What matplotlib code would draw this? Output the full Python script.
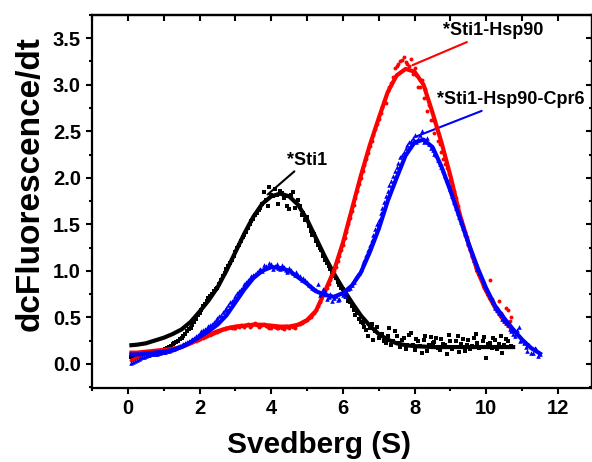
import numpy as np
import matplotlib.pyplot as plt
from matplotlib.ticker import MultipleLocator, NullFormatter

plt.rcParams['font.family'] = ['Liberation Sans', 'DejaVu Sans']
plt.rcParams['font.weight'] = 'bold'

# ---- fitted curves ----
fit_x_black = [0.1, 0.25, 0.5, 0.75, 1.0, 1.25, 1.5, 1.75, 2.0, 2.25, 2.5, 2.75, 3.0, 3.25,
               3.5, 3.75, 4.0, 4.25, 4.5, 4.75, 5.0, 5.25, 5.5, 5.75, 6.0, 6.25, 6.5, 6.75,
               7.0, 7.25, 7.5, 7.75, 8.0, 8.5, 9.0, 9.5, 10.0, 10.5, 10.75]
fit_y_black = [0.20, 0.205, 0.22, 0.25, 0.28, 0.32, 0.37, 0.45, 0.56, 0.68, 0.82, 1.00, 1.20, 1.40,
               1.58, 1.72, 1.80, 1.83, 1.80, 1.71, 1.55, 1.35, 1.15, 0.97, 0.81, 0.66, 0.52, 0.41,
               0.32, 0.26, 0.22, 0.20, 0.19, 0.18, 0.18, 0.18, 0.18, 0.18, 0.18]

fit_x_red = [0.1, 0.25, 0.5, 0.75, 1.0, 1.25, 1.5, 1.75, 2.0, 2.25, 2.5, 2.75, 3.0, 3.25,
             3.5, 3.75, 4.0, 4.25, 4.5, 4.75, 5.0, 5.25, 5.5, 5.75, 6.0, 6.25, 6.5, 6.75,
             7.0, 7.25, 7.5, 7.75, 8.0, 8.25, 8.5, 8.75, 9.0, 9.25, 9.5, 9.75, 10.0, 10.25,
             10.5, 10.75]
fit_y_red = [0.12, 0.12, 0.13, 0.14, 0.15, 0.16, 0.18, 0.22, 0.27, 0.31, 0.35, 0.38, 0.40, 0.41,
             0.42, 0.42, 0.41, 0.40, 0.40, 0.42, 0.47, 0.57, 0.78, 1.00, 1.30, 1.66, 2.02, 2.35,
             2.64, 2.92, 3.10, 3.17, 3.14, 3.00, 2.70, 2.38, 2.02, 1.62, 1.30, 1.00, 0.78, 0.60,
             0.46, 0.36]

fit_x_blue = [0.1, 0.25, 0.5, 0.75, 1.0, 1.25, 1.5, 1.75, 2.0, 2.25, 2.5, 2.75, 3.0, 3.25,
              3.5, 3.75, 4.0, 4.25, 4.5, 4.75, 5.0, 5.25, 5.5, 5.75, 6.0, 6.25, 6.5, 6.75,
              7.0, 7.25, 7.5, 7.75, 8.0, 8.25, 8.5, 8.75, 9.0, 9.25, 9.5, 9.75, 10.0, 10.25,
              10.5, 10.75, 11.0, 11.25, 11.5]
fit_y_blue = [0.10, 0.10, 0.11, 0.12, 0.13, 0.15, 0.18, 0.23, 0.29, 0.35, 0.42, 0.52, 0.66, 0.80,
              0.92, 1.00, 1.04, 1.03, 1.00, 0.93, 0.86, 0.78, 0.74, 0.72, 0.76, 0.84, 0.98, 1.20,
              1.45, 1.75, 2.00, 2.24, 2.38, 2.41, 2.33, 2.12, 1.86, 1.58, 1.30, 1.04, 0.81, 0.62,
              0.49, 0.37, 0.26, 0.17, 0.11]

# ---- raw points, first pass (x = 0.1, 0.2, ...) ----
pts_x_black = [round(0.1 * i, 2) for i in range(1, 108)]
pts_y_black = [0.07, 0.08, 0.08, 0.09, 0.10, 0.10, 0.11, 0.12, 0.14, 0.15,
               0.17, 0.19, 0.22, 0.25, 0.28, 0.32, 0.37, 0.42, 0.48, 0.55,
               0.62, 0.68, 0.73, 0.78, 0.82, 0.90, 0.98, 1.05, 1.12, 1.20,
               1.28, 1.36, 1.42, 1.50, 1.56, 1.62, 1.68, 1.85, 1.70, 1.82,
               1.88, 1.72, 1.84, 1.80, 1.66, 1.85, 1.74, 1.70, 1.62, 1.58,
               1.43, 1.40, 1.28, 1.22, 1.12, 1.05, 0.98, 0.92, 0.85, 0.80,
               0.72, 0.66, 0.58, 0.55, 0.45, 0.40, 0.30, 0.43, 0.35, 0.28,
               0.32, 0.22, 0.38, 0.25, 0.30, 0.18, 0.28, 0.20, 0.33, 0.15,
               0.24, 0.12, 0.30, 0.20, 0.22, 0.28, 0.15, 0.21, 0.10, 0.25,
               0.18, 0.30, 0.21, 0.14, 0.26, 0.19, 0.32, 0.17, 0.24, 0.06,
               0.22, 0.28, 0.16, 0.30, 0.20, 0.25, 0.19]

pts_x_red = [round(0.1 * i, 2) for i in range(1, 108)]
pts_y_red = [0.04, 0.06, 0.08, 0.09, 0.10, 0.11, 0.12, 0.13, 0.14, 0.15,
             0.15, 0.16, 0.17, 0.18, 0.19, 0.20, 0.22, 0.23, 0.25, 0.27,
             0.28, 0.30, 0.31, 0.33, 0.34, 0.36, 0.37, 0.38, 0.39, 0.39,
             0.40, 0.41, 0.42, 0.40, 0.43, 0.42, 0.41, 0.43, 0.40, 0.39,
             0.40, 0.38, 0.39, 0.41, 0.38, 0.40, 0.42, 0.43, 0.45, 0.47,
             0.50, 0.55, 0.62, 0.70, 0.78, 0.86, 0.95, 1.04, 1.16, 1.28,
             1.42, 1.57, 1.71, 1.86, 2.00, 2.14, 2.27, 2.40, 2.52, 2.63,
             2.76, 2.80, 2.98, 3.08, 3.20, 3.25, 3.30, 3.22, 3.28, 3.18,
             2.98, 3.05, 2.95, 2.78, 2.62, 2.53, 2.36, 2.20, 2.10, 1.98,
             1.86, 1.70, 1.55, 1.42, 1.28, 1.15, 1.03, 0.97, 0.85, 0.80,
             0.90, 0.66, 0.60, 0.55, 0.48, 0.58, 0.50]

pts_x_blue = [round(0.1 * i, 2) for i in range(1, 116)]
pts_y_blue = [0.01, 0.03, 0.05, 0.07, 0.08, 0.09, 0.10, 0.11, 0.12, 0.13,
              0.14, 0.15, 0.16, 0.18, 0.20, 0.22, 0.24, 0.27, 0.30, 0.33,
              0.36, 0.39, 0.42, 0.45, 0.49, 0.53, 0.58, 0.63, 0.68, 0.73,
              0.78, 0.83, 0.88, 0.92, 0.96, 0.99, 1.02, 1.06, 1.04, 1.07,
              1.05, 1.03, 1.06, 1.01, 1.03, 0.98, 0.99, 0.94, 0.92, 0.88,
              0.84, 0.80, 0.86, 0.76, 0.78, 0.72, 0.68, 0.73, 0.70, 0.74,
              0.77, 0.82, 0.88, 0.95, 1.02, 1.12, 1.22, 1.33, 1.45, 1.55,
              1.68, 1.80, 1.92, 2.02, 2.12, 2.22, 2.28, 2.35, 2.40, 2.46,
              2.42, 2.50, 2.40, 2.36, 2.30, 2.24, 2.15, 2.08, 1.98, 1.88,
              1.74, 1.62, 1.52, 1.40, 1.30, 1.18, 1.08, 0.98, 0.90, 0.80,
              0.72, 0.66, 0.58, 0.52, 0.46, 0.42, 0.35, 0.30, 0.40, 0.26,
              0.18, 0.20, 0.12, 0.16, 0.10]

# ---- raw points, second pass (x = 0.15, 0.25, ...) ----
pts2_x_black = [round(0.1 * i + 0.05, 2) for i in range(1, 107)]
pts2_y_black = [0.08, 0.07, 0.09, 0.10, 0.09, 0.11, 0.12, 0.13, 0.14, 0.16,
                0.18, 0.21, 0.23, 0.27, 0.30, 0.35, 0.39, 0.45, 0.52, 0.58,
                0.64, 0.71, 0.75, 0.80, 0.86, 0.94, 1.02, 1.08, 1.16, 1.24,
                1.32, 1.38, 1.46, 1.53, 1.60, 1.65, 1.72, 1.76, 1.90, 1.80,
                1.82, 1.86, 1.78, 1.70, 1.82, 1.68, 1.76, 1.60, 1.55, 1.48,
                1.38, 1.32, 1.25, 1.16, 1.08, 1.02, 0.94, 0.88, 0.82, 0.76,
                0.68, 0.62, 0.52, 0.48, 0.44, 0.36, 0.38, 0.26, 0.40, 0.30,
                0.24, 0.30, 0.20, 0.35, 0.22, 0.26, 0.16, 0.31, 0.20, 0.27,
                0.19, 0.26, 0.14, 0.29, 0.23, 0.17, 0.27, 0.20, 0.31, 0.16,
                0.24, 0.13, 0.27, 0.20, 0.16, 0.28, 0.22, 0.18, 0.29, 0.21,
                0.17, 0.26, 0.21, 0.12, 0.27, 0.18]

pts2_x_red = [round(0.1 * i + 0.05, 2) for i in range(1, 107)]
pts2_y_red = [0.05, 0.07, 0.08, 0.10, 0.11, 0.12, 0.12, 0.14, 0.15, 0.15,
              0.16, 0.17, 0.17, 0.19, 0.20, 0.21, 0.23, 0.24, 0.26, 0.28,
              0.29, 0.31, 0.32, 0.34, 0.35, 0.37, 0.38, 0.40, 0.38, 0.41,
              0.42, 0.40, 0.43, 0.41, 0.44, 0.40, 0.42, 0.41, 0.38, 0.41,
              0.39, 0.40, 0.37, 0.40, 0.41, 0.39, 0.43, 0.44, 0.46, 0.49,
              0.53, 0.58, 0.66, 0.74, 0.82, 0.90, 1.00, 1.10, 1.22, 1.35,
              1.50, 1.64, 1.78, 1.93, 2.07, 2.20, 2.34, 2.46, 2.58, 2.70,
              2.82, 2.93, 3.02, 3.18, 3.22, 3.27, 3.24, 3.20, 3.12, 3.10,
              2.98, 2.86, 2.72, 2.62, 2.48, 2.40, 2.28, 2.15, 2.04, 1.92,
              1.78, 1.62, 1.48, 1.36, 1.22, 1.10, 1.00, 0.92, 0.82, 0.74,
              0.70, 0.62, 0.68, 0.52, 0.60, 0.46]

pts2_x_blue = [round(0.1 * i + 0.05, 2) for i in range(1, 115)]
pts2_y_blue = [0.02, 0.04, 0.06, 0.07, 0.09, 0.10, 0.10, 0.12, 0.13, 0.13,
               0.14, 0.16, 0.17, 0.19, 0.21, 0.23, 0.26, 0.28, 0.31, 0.35,
               0.37, 0.41, 0.43, 0.47, 0.51, 0.56, 0.60, 0.66, 0.70, 0.76,
               0.80, 0.86, 0.90, 0.94, 0.97, 1.01, 1.00, 1.05, 1.08, 1.02,
               1.07, 1.02, 1.04, 0.99, 1.01, 0.96, 0.95, 0.90, 0.90, 0.85,
               0.82, 0.79, 0.74, 0.80, 0.70, 0.75, 0.71, 0.69, 0.76, 0.73,
               0.80, 0.85, 0.92, 0.98, 1.08, 1.17, 1.28, 1.38, 1.50, 1.62,
               1.74, 1.86, 1.97, 2.07, 2.16, 2.25, 2.32, 2.38, 2.43, 2.38,
               2.46, 2.38, 2.43, 2.32, 2.26, 2.19, 2.12, 2.02, 1.92, 1.80,
               1.68, 1.58, 1.46, 1.35, 1.24, 1.12, 1.02, 0.94, 0.85, 0.76,
               0.70, 0.60, 0.55, 0.48, 0.44, 0.37, 0.32, 0.36, 0.24, 0.22,
               0.14, 0.12, 0.17, 0.08]

fig = plt.figure(figsize=(5.92, 4.62), dpi=100)
ax = fig.add_axes([0.1554, 0.1602, 0.8446, 0.8074])

# black (*Sti1)
ax.plot(pts_x_black, pts_y_black, 's', color='black', ms=2.5, mew=0, zorder=2)
ax.plot(pts2_x_black, pts2_y_black, 's', color='black', ms=2.5, mew=0, zorder=2)
ax.plot(fit_x_black, fit_y_black, '-', color='black', lw=3, zorder=3)
# red (*Sti1-Hsp90)
ax.plot(pts_x_red, pts_y_red, 'o', color='red', ms=2.8, mew=0, zorder=4)
ax.plot(pts2_x_red, pts2_y_red, 'o', color='red', ms=2.8, mew=0, zorder=4)
ax.plot(fit_x_red, fit_y_red, '-', color='red', lw=3, zorder=5)
# blue (*Sti1-Hsp90-Cpr6)
ax.plot(pts_x_blue, pts_y_blue, '^', color='blue', ms=3.3, mew=0, zorder=6)
ax.plot(pts2_x_blue, pts2_y_blue, '^', color='blue', ms=3.3, mew=0, zorder=6)
ax.plot(fit_x_blue, fit_y_blue, '-', color='blue', lw=3, zorder=7)

# annotations
ax.annotate('*Sti1', xy=(3.9, 1.82), xytext=(4.45, 2.19), fontsize=13, fontweight='bold',
            va='center', ha='left',
            arrowprops=dict(arrowstyle='-', color='black', lw=1.5, shrinkA=0, shrinkB=0))
ax.annotate('*Sti1-Hsp90', xy=(7.94, 3.21), xytext=(8.8, 3.58), fontsize=13, fontweight='bold',
            va='center', ha='left',
            arrowprops=dict(arrowstyle='-', color='red', lw=1.5, shrinkA=0, shrinkB=0))
ax.annotate('*Sti1-Hsp90-Cpr6', xy=(8.02, 2.44), xytext=(8.62, 2.84), fontsize=13,
            fontweight='bold', va='center', ha='left',
            arrowprops=dict(arrowstyle='-', color='blue', lw=1.5, shrinkA=0, shrinkB=0))

ax.set_xlim(-1, 12.95)
ax.set_ylim(-0.26, 3.75)

ax.xaxis.set_major_locator(MultipleLocator(2))
ax.xaxis.set_minor_locator(MultipleLocator(1))
ax.yaxis.set_minor_locator(MultipleLocator(0.25))
ax.set_yticks([0.0, 0.5, 1.0, 1.5, 2.0, 2.5, 3.0, 3.5])
ax.yaxis.set_major_formatter(plt.FormatStrFormatter('%.1f'))

ax.tick_params(which='major', direction='out', length=4.5, width=1.5, labelsize=14.5)
ax.tick_params(which='minor', direction='out', length=2.5, width=1.5)
for sp in ax.spines.values():
    sp.set_linewidth(1.6)

# mirrored ticks on top and right, pointing inward
top = ax.secondary_xaxis('top')
top.xaxis.set_major_locator(MultipleLocator(2))
top.xaxis.set_minor_locator(MultipleLocator(1))
top.xaxis.set_major_formatter(NullFormatter())
top.tick_params(which='major', direction='in', length=4, width=1.5)
top.tick_params(which='minor', direction='in', length=4, width=1.5)
right = ax.secondary_yaxis('right')
right.yaxis.set_major_locator(MultipleLocator(0.5))
right.yaxis.set_minor_locator(MultipleLocator(0.25))
right.yaxis.set_major_formatter(NullFormatter())
right.tick_params(which='major', direction='in', length=4.5, width=1.5)
right.tick_params(which='minor', direction='in', length=2, width=1.5)
top.spines['top'].set_linewidth(1.6)
right.spines['right'].set_linewidth(1.6)

ax.set_xlabel('Svedberg (S)', fontsize=21.5, fontweight='bold', va='center')
ax.set_ylabel('dcFluorescence/dt', fontsize=24, fontweight='bold', va='center')
ax.xaxis.set_label_coords(0.454, -0.152)
ax.yaxis.set_label_coords(-0.124, 0.547)

fig.savefig('out.png', dpi=100)
